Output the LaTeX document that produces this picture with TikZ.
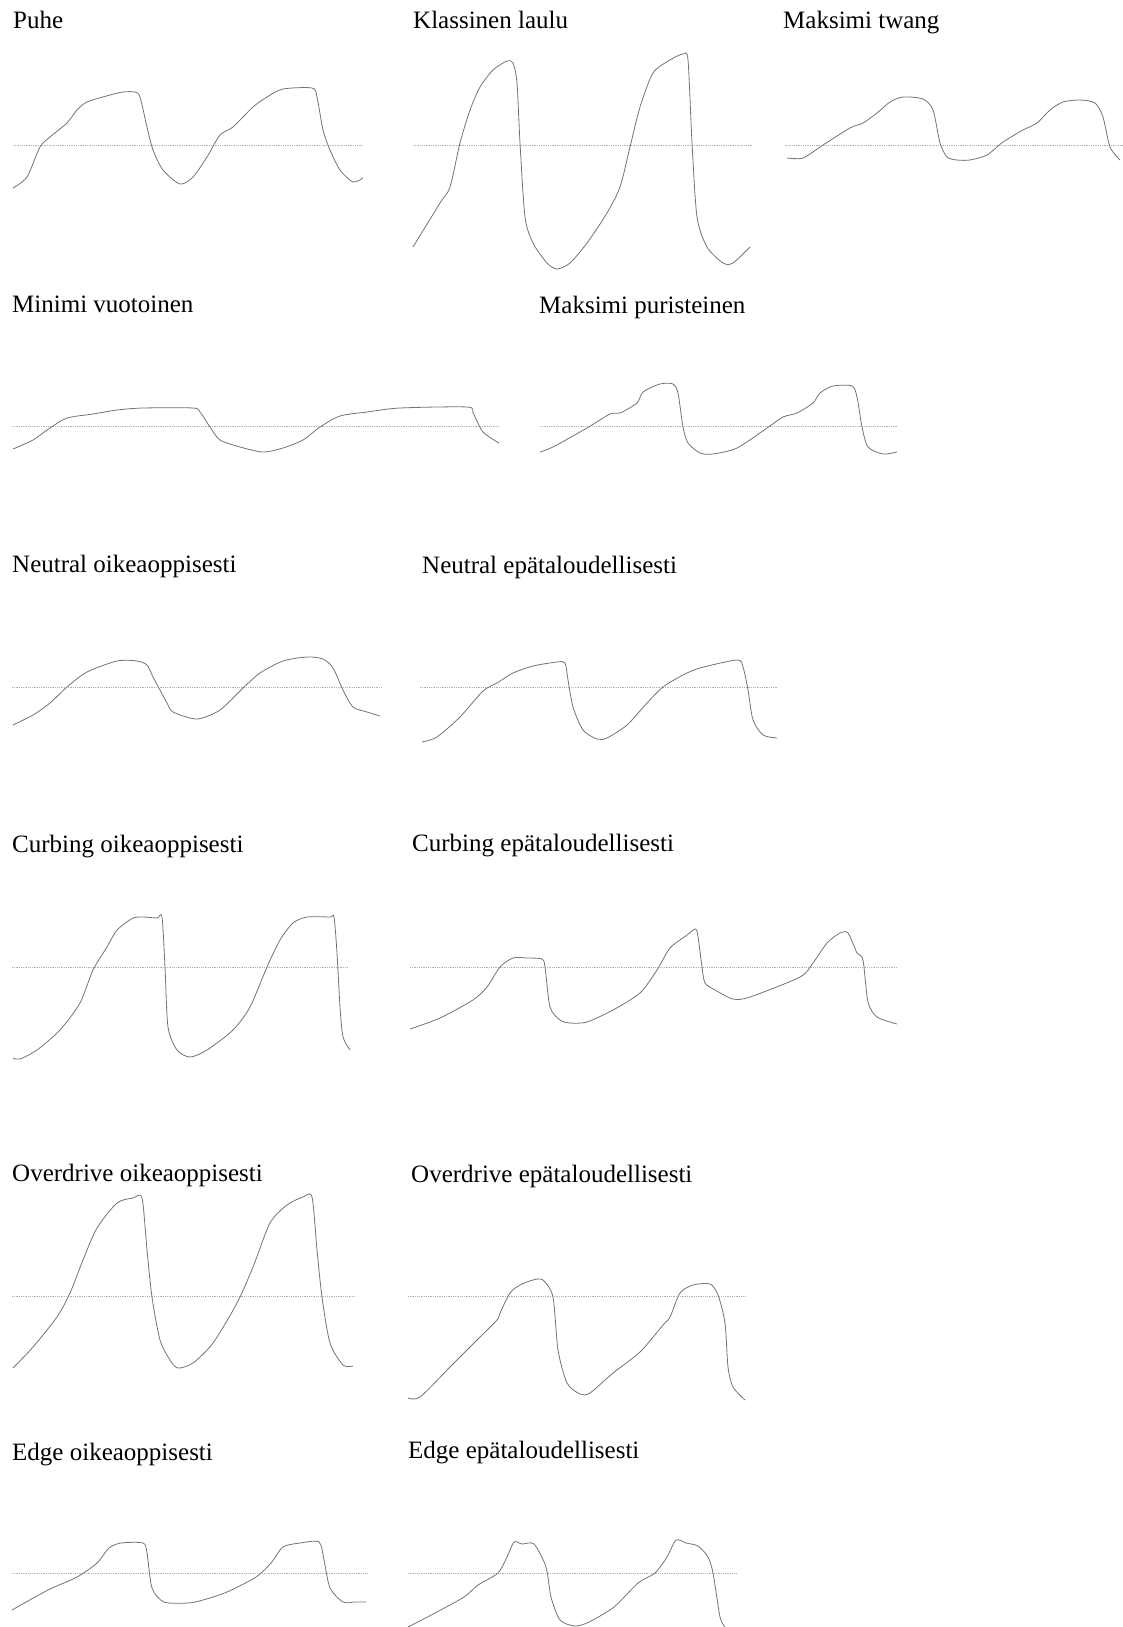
\documentclass[tikz,border=0pt]{standalone}
\usepackage{fontspec}
\setmainfont{Liberation Serif}
\usepackage{tikz}

\begin{document}
\begin{tikzpicture}[x=1pt,y=-1pt,
    title node/.style={anchor=base west,inner sep=0pt,font=\fontsize{25}{30}\selectfont},
    zero line/.style={densely dotted,line width=0.8pt,black!30},
    wave/.style={line width=0.8pt,black!55,line join=round,smooth,tension=0.45}]

        \useasboundingbox (0,0) rectangle (1122,1627);

        % rivi 1
        \node[title node] (puhe)      at (13,29)  {Puhe};
        \node[title node] (klassinen) at (413,29) {Klassinen laulu};
        \node[title node] (twang)     at (783,29) {Maksimi twang};

        \draw[zero line] (13,145) -- (363,145);
        \draw[wave] plot coordinates {(13,188) (27,177) (40,147) (50,137) (67,123) (77,110) (87,102) (110,95) (123,92) (135,92) (140,97) (147,127) (153,150) (163,170) (180,184) (193,177) (207,157) (220,135) (233,127) (253,107) (267,97) (283,89) (312,88) (317,97) (323,130) (330,150) (340,170) (353,182) (363,178)};

        \draw[zero line] (413,145) -- (752,145);
        \draw[wave] plot coordinates {(413,247) (440,203) (450,187) (460,143) (470,110) (480,87) (493,70) (507,61) (513,63) (517,83) (520,143) (525,217) (533,243) (547,263) (557,269) (570,263) (587,243) (607,213) (620,187) (630,147) (640,107) (653,73) (670,60) (683,54) (688,60) (692,143) (697,217) (707,247) (723,263) (733,263) (750,247)};

        \draw[zero line] (785,145) -- (1122,145);
        \draw[wave] plot coordinates {(787,158) (803,158) (823,145) (850,128) (863,123) (877,113) (890,102) (903,97) (923,99) (933,110) (940,143) (947,157) (957,160) (970,160) (987,155) (1003,142) (1023,130) (1037,123) (1050,110) (1063,102) (1080,100) (1095,103) (1103,117) (1110,147) (1120,160)};

        % rivi 2
        \node[title node] (vuotoinen)  at (12,312)  {Minimi vuotoinen};
        \node[title node] (puristeinen) at (539,313) {Maksimi puristeinen};

        \draw[zero line] (12,426) -- (499,426);
        \draw[wave] plot coordinates {(13,449) (33,440) (50,428) (67,418) (93,414) (117,410) (143,408) (193,408) (200,412) (210,427) (220,440) (240,447) (263,452) (283,448) (303,440) (320,427) (340,416) (367,412) (400,408) (467,407) (473,413) (483,432) (499,443)};

        \draw[zero line] (540,426) -- (897,426);
        \draw[wave] plot coordinates {(540,452) (553,447) (587,428) (610,414) (620,413) (637,403) (643,392) (660,384) (673,384) (678,393) (683,427) (688,443) (700,453) (713,454) (737,448) (767,428) (783,417) (797,413) (813,403) (820,393) (833,386) (852,386) (857,397) (862,427) (868,447) (883,454) (897,452)};

        % rivi 3
        \node[title node] (neutral1) at (12,572)  {Neutral oikeaoppisesti};
        \node[title node] (neutral2) at (422,573) {Neutral epätaloudellisesti};

        \draw[zero line] (12,687) -- (382,687);
        \draw[wave] plot coordinates {(13,725) (33,715) (50,703) (67,687) (87,672) (117,661) (137,661) (147,665) (153,677) (160,690) (167,703) (173,712) (197,719) (220,710) (243,688) (260,673) (283,661) (307,657) (323,659) (333,668) (343,690) (353,707) (367,712) (380,716)};

        \draw[zero line] (420,687) -- (778,687);
        \draw[wave] plot coordinates {(422,742) (437,737) (460,717) (483,691) (497,683) (513,673) (533,666) (557,662) (565,663) (568,680) (573,707) (583,730) (597,739) (607,738) (627,725) (647,703) (663,687) (683,675) (700,668) (737,660) (743,667) (748,690) (753,720) (763,735) (777,738)};

        % rivi 4
        \node[title node] (curbing1) at (12,852)  {Curbing oikeaoppisesti};
        \node[title node] (curbing2) at (412,851) {Curbing epätaloudellisesti};

        \draw[zero line] (12,967) -- (348,967);
        \draw[wave] plot coordinates {(13,1058) (20,1059) (37,1050) (60,1030) (80,1003) (93,970) (107,947) (117,930) (133,918) (143,917) (157,918) (162,917) (165,967) (168,1027) (177,1050) (190,1057) (207,1050) (233,1030) (250,1007) (267,967) (280,940) (293,923) (307,917) (330,917) (334,917) (337,953) (340,1007) (343,1037) (350,1050)};

        \draw[zero line] (410,967) -- (897,967);
        \draw[wave] plot coordinates {(410,1029) (440,1018) (473,1000) (487,987) (500,967) (513,958) (527,958) (542,959) (545,967) (550,1007) (560,1020) (570,1023) (587,1022) (613,1010) (640,993) (657,970) (670,948) (687,935) (692,931) (697,931) (702,967) (705,983) (715,990) (733,999) (750,997) (800,977) (813,963) (827,943) (840,933) (848,933) (857,953) (863,960) (868,1002) (877,1017) (897,1024)};

        % rivi 5
        \node[title node] (overdrive1) at (12,1181) {Overdrive oikeaoppisesti};
        \node[title node] (overdrive2) at (411,1182) {Overdrive epätaloudellisesti};

        \draw[zero line] (12,1296) -- (355,1296);
        \draw[wave] plot coordinates {(13,1368) (33,1347) (57,1317) (70,1293) (83,1260) (97,1228) (117,1203) (133,1198) (142,1198) (147,1250) (152,1297) (160,1340) (170,1360) (178,1368) (193,1363) (213,1343) (237,1303) (253,1267) (270,1223) (287,1205) (303,1197) (312,1197) (317,1250) (322,1297) (330,1343) (343,1365) (353,1366)};

        \draw[zero line] (408,1296) -- (745,1296);
        \draw[wave] plot coordinates {(408,1398) (420,1397) (450,1367) (477,1340) (497,1320) (500,1313) (510,1293) (520,1285) (533,1280) (543,1280) (553,1297) (558,1350) (567,1383) (580,1394) (590,1393) (613,1373) (640,1352) (663,1325) (670,1317) (680,1293) (693,1285) (710,1284) (718,1295) (725,1323) (728,1367) (733,1387) (745,1400)};

        % rivi 6
        \node[title node] (edge1) at (12,1460)  {Edge oikeaoppisesti};
        \node[title node] (edge2) at (408,1458) {Edge epätaloudellisesti};

        \draw[zero line] (12,1573) -- (367,1573);
        \draw[wave] plot coordinates {(12,1610) (48,1590) (77,1577) (97,1563) (109,1548) (121,1543) (143,1543) (147,1553) (152,1588) (164,1602) (188,1603) (203,1600) (227,1592) (256,1577) (271,1563) (283,1547) (300,1543) (319,1542) (324,1560) (330,1588) (343,1602) (355,1602) (366,1602)};

        \draw[zero line] (408,1573) -- (737,1573);
        \draw[wave] plot coordinates {(408,1627) (435,1613) (464,1597) (478,1585) (498,1573) (507,1557) (514,1542) (522,1544) (534,1544) (546,1567) (551,1597) (560,1620) (575,1626) (589,1622) (614,1607) (638,1583) (655,1573) (667,1557) (676,1540) (686,1543) (698,1546) (708,1557) (713,1573) (720,1617) (725,1627)};

\end{tikzpicture}
\end{document}
